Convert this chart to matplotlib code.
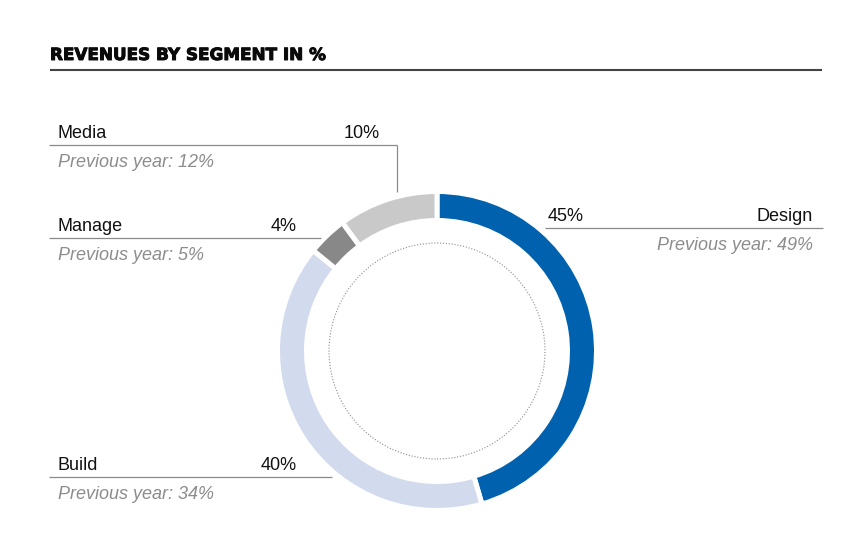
import matplotlib
matplotlib.use("Agg")
import matplotlib.pyplot as plt
import matplotlib.patheffects as pe

# data
segments = ["Design", "Build", "Manage", "Media"]
shares = [45, 40, 4, 10]
prev_shares = [49, 34, 5, 12]
colors = ["#0062ae", "#d2daee", "#888888", "#c8c9c8"]
title = "REVENUES BY SEGMENT IN %"

W, H = 854, 536
fig = plt.figure(figsize=(W / 100, H / 100), dpi=100)
fig.patch.set_facecolor("white")

# donut, in its own square axes; units are pixels
cx, cy = 437, 351
half = 175
pie_ax = fig.add_axes([(cx - half) / W, (H - cy - half) / H, 2 * half / W, 2 * half / H])
gap = 3.6  # points
gap_px = gap * 100 / 72
outer = 157 + gap_px / 2
ring = 24 + gap_px
pie_ax.pie(shares, colors=colors, startangle=90, counterclock=False, radius=outer,
           wedgeprops=dict(width=ring, edgecolor="white", linewidth=gap))
dotted = plt.Circle((0, 0), 108, fill=False, color="#8c8c8c", linestyle=(0, (1, 1.6)), linewidth=0.8)
pie_ax.add_patch(dotted)
pie_ax.set_xlim(-half, half)
pie_ax.set_ylim(-half, half)
pie_ax.set_aspect("equal")
pie_ax.axis("off")

# overlay for the labels, pixel coordinates with y pointing down
ax = fig.add_axes([0, 0, 1, 1], facecolor="none")
ax.set_xlim(0, W)
ax.set_ylim(H, 0)
ax.axis("off")

ax.text(50, 60, title, fontsize=12.1, fontweight="bold", family="DejaVu Sans",
        va="baseline", ha="left", color="#0a0a0a",
        path_effects=[pe.withStroke(linewidth=0.7, foreground="#0a0a0a")])
ax.plot([50, 822], [69.5, 69.5], color="#444444", lw=1.5, solid_capstyle="butt")

font = "Liberation Sans"
line_c = "#8a8a8a"
prev_c = "#8c8c8c"
fs = 13

# label layout per segment: (side, baseline y, x0, x1, value x)
layout = {
    "Design": ("right", 221, 545, 823, 548),
    "Build": ("left", 470, 49, 332, 297),
    "Manage": ("left", 231, 49, 321, 297),
    "Media": ("left", 138, 49, 397, 380),
}

for name, share, prev in zip(segments, shares, prev_shares):
    side, y, x0, x1, vx = layout[name]
    ly = y + 7
    ax.plot([x0, x1], [ly, ly], color=line_c, lw=0.9, solid_capstyle="butt")
    if side == "left":
        ax.text(58, y, name, fontsize=fs, family=font, ha="left", va="baseline", color="#111111")
        ax.text(vx, y, f"{share}%", fontsize=fs, family=font, ha="right", va="baseline", color="#111111")
        ax.text(58, y + 29, f"Previous year: {prev}%", fontsize=fs, family=font, style="italic",
                ha="left", va="baseline", color=prev_c)
    else:
        ax.text(vx, y, f"{share}%", fontsize=fs, family=font, ha="left", va="baseline", color="#111111")
        ax.text(813, y, name, fontsize=fs, family=font, ha="right", va="baseline", color="#111111")
        ax.text(813, y + 29, f"Previous year: {prev}%", fontsize=fs, family=font, style="italic",
                ha="right", va="baseline", color=prev_c)

# leader from the Media label down towards the ring
ax.plot([397, 397], [145, 192], color=line_c, lw=0.9, solid_capstyle="butt")

fig.savefig("out.png", dpi=100, facecolor="white")
